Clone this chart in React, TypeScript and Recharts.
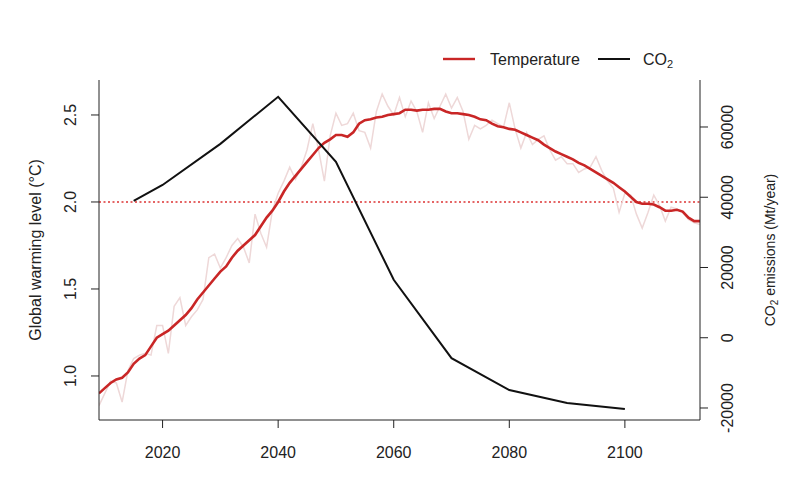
import React from 'react';
import { ComposedChart, Line, XAxis, YAxis, ReferenceLine } from 'recharts';

const years = [
  2009, 2010, 2011, 2012, 2013, 2014, 2015, 2016, 2017, 2018,
  2019, 2020, 2021, 2022, 2023, 2024, 2025, 2026, 2027, 2028,
  2029, 2030, 2031, 2032, 2033, 2034, 2035, 2036, 2037, 2038,
  2039, 2040, 2041, 2042, 2043, 2044, 2045, 2046, 2047, 2048,
  2049, 2050, 2051, 2052, 2053, 2054, 2055, 2056, 2057, 2058,
  2059, 2060, 2061, 2062, 2063, 2064, 2065, 2066, 2067, 2068,
  2069, 2070, 2071, 2072, 2073, 2074, 2075, 2076, 2077, 2078,
  2079, 2080, 2081, 2082, 2083, 2084, 2085, 2086, 2087, 2088,
  2089, 2090, 2091, 2092, 2093, 2094, 2095, 2096, 2097, 2098,
  2099, 2100, 2101, 2102, 2103, 2104, 2105, 2106, 2107, 2108,
  2109, 2110, 2111, 2112, 2113,
];

// smoothed temperature (°C)
const tempSmooth = [
  0.90, 0.93, 0.96, 0.98, 0.99, 1.02, 1.07, 1.10, 1.12, 1.17,
  1.22, 1.24, 1.26, 1.29, 1.32, 1.35, 1.39, 1.44, 1.48, 1.52,
  1.56, 1.60, 1.63, 1.68, 1.72, 1.75, 1.78, 1.81, 1.86, 1.91,
  1.95, 2.00, 2.06, 2.11, 2.15, 2.19, 2.23, 2.27, 2.31, 2.34,
  2.36, 2.385, 2.385, 2.375, 2.40, 2.45, 2.47, 2.475, 2.485, 2.49,
  2.50, 2.505, 2.51, 2.53, 2.53, 2.525, 2.53, 2.53, 2.535, 2.535,
  2.52, 2.51, 2.51, 2.505, 2.50, 2.49, 2.475, 2.47, 2.45, 2.435,
  2.43, 2.42, 2.415, 2.40, 2.385, 2.37, 2.355, 2.33, 2.31, 2.29,
  2.275, 2.26, 2.245, 2.225, 2.21, 2.19, 2.17, 2.15, 2.13, 2.11,
  2.085, 2.06, 2.03, 2.00, 1.99, 1.99, 1.985, 1.97, 1.95, 1.95,
  1.955, 1.945, 1.91, 1.89, 1.89,
];

// annual temperature (°C)
const tempAnnual = [
  0.83, 0.90, 0.97, 0.96, 0.85, 1.03, 1.10, 1.12, 1.13, 1.12,
  1.29, 1.29, 1.13, 1.40, 1.45, 1.29, 1.34, 1.38, 1.44, 1.68,
  1.70, 1.62, 1.68, 1.75, 1.79, 1.74, 1.65, 1.93, 1.82, 1.74,
  1.95, 2.05, 2.12, 2.20, 2.13, 2.20, 2.30, 2.45, 2.30, 2.12,
  2.38, 2.51, 2.44, 2.45, 2.51, 2.41, 2.40, 2.31, 2.52, 2.62,
  2.55, 2.50, 2.60, 2.49, 2.58, 2.52, 2.40, 2.57, 2.48, 2.55,
  2.62, 2.54, 2.60, 2.52, 2.36, 2.44, 2.42, 2.44, 2.47, 2.45,
  2.43, 2.57, 2.42, 2.31, 2.40, 2.33, 2.36, 2.38, 2.30, 2.24,
  2.26, 2.22, 2.22, 2.17, 2.19, 2.20, 2.26, 2.18, 2.12, 2.08,
  1.94, 2.05, 2.04, 1.93, 1.85, 1.94, 2.04, 1.98, 1.89, 1.97,
  1.96, 1.94, 1.90, 1.88, 1.87,
];

// CO2 emissions (Mt/year)
const co2Years = [2015, 2020, 2030, 2040, 2050, 2060, 2070, 2080, 2090, 2100];
const co2Values = [39000, 43500, 55200, 68600, 50100, 16500, -5800, -14900, -18600, -20300];

const xTicks = [2020, 2040, 2060, 2080, 2100];
const tempTicks = [1.0, 1.5, 2.0, 2.5];
const co2Ticks = [-20000, 0, 20000, 40000, 60000];

const data = years.map((year, i) => {
  const k = co2Years.indexOf(year);
  return {
    year,
    smooth: tempSmooth[i],
    annual: tempAnnual[i],
    co2: k >= 0 ? co2Values[k] : null,
  };
});

const FONT = '"Liberation Sans", Arial, Helvetica, sans-serif';
const INK = '#222';
const RED = '#c92626';

const LeftTick = (props: any) => {
  const { x, y, payload } = props;
  const cx = x - 18;
  return (
    <text x={cx} y={y} transform={`rotate(-90 ${cx} ${y})`} textAnchor="middle"
      dominantBaseline="central" fontSize={16} fill={INK} fontFamily={FONT}>
      {Number(payload.value).toFixed(1)}
    </text>
  );
};

const RightTick = (props: any) => {
  const { x, y, payload } = props;
  const cx = x + 18;
  return (
    <text x={cx} y={y} transform={`rotate(-90 ${cx} ${y})`} textAnchor="middle"
      dominantBaseline="central" fontSize={16} fill={INK} fontFamily={FONT}>
      {String(payload.value)}
    </text>
  );
};

const BottomTick = (props: any) => {
  const { x, y, payload } = props;
  return (
    <text x={x} y={y + 22} textAnchor="middle" dominantBaseline="central"
      fontSize={16} fill={INK} fontFamily={FONT}>
      {payload.value}
    </text>
  );
};

const App = () => {
  return (
    <div style={{ position: 'absolute', left: 0, top: 0, width: 800, height: 500, background: '#fff', fontFamily: FONT }}>
      <ComposedChart width={800} height={500} data={data}
        margin={{ top: 80, right: 40, bottom: 30, left: 39 }}>
        <XAxis dataKey="year" type="number" domain={[2009, 2113]} ticks={xTicks}
          allowDataOverflow height={50} tickSize={8} tickMargin={2}
          stroke={INK} tick={<BottomTick />} />
        <YAxis yAxisId="temp" orientation="left" type="number" domain={[0.747, 2.701]}
          ticks={tempTicks} allowDataOverflow width={60} tickSize={8} tickMargin={2}
          stroke={INK} tick={<LeftTick />} />
        <YAxis yAxisId="co2" orientation="right" type="number" domain={[-23420, 73380]}
          ticks={co2Ticks} allowDataOverflow width={60} tickSize={8} tickMargin={2}
          stroke={INK} tick={<RightTick />} />
        <ReferenceLine yAxisId="temp" y={2} stroke="#d33" strokeWidth={1.3} strokeDasharray="2 2.5" />
        <Line yAxisId="temp" dataKey="annual" stroke="#eed8d8" strokeWidth={1.5}
          dot={false} isAnimationActive={false} />
        <Line yAxisId="temp" dataKey="smooth" stroke={RED} strokeWidth={2.6}
          dot={false} isAnimationActive={false} />
        <Line yAxisId="co2" dataKey="co2" stroke="#111" strokeWidth={2}
          dot={false} connectNulls isAnimationActive={false} />
        <text x={35} y={250} transform="rotate(-90 35 250)" textAnchor="middle"
          dominantBaseline="central" fontSize={16} fill={INK} fontFamily={FONT}>
          Global warming level (°C)
        </text>
        <text x={770} y={250} transform="rotate(-90 770 250)" textAnchor="middle"
          dominantBaseline="central" fontSize={14} fill={INK} fontFamily={FONT}>
          CO<tspan fontSize={10} dy={4}>2</tspan><tspan dy={-4}> emissions (Mt/year)</tspan>
        </text>
      </ComposedChart>
      <svg width={800} height={80} style={{ position: 'absolute', left: 0, top: 0 }}>
        <line x1={443} y1={59} x2={475} y2={59} stroke={RED} strokeWidth={2.4} />
        <text x={490} y={59} dominantBaseline="central" fontSize={16} fill={INK} fontFamily={FONT}>Temperature</text>
        <line x1={598} y1={59} x2={630} y2={59} stroke="#111" strokeWidth={2} />
        <text x={643} y={59} dominantBaseline="central" fontSize={16} fill={INK} fontFamily={FONT}>
          CO<tspan fontSize={11} dy={5}>2</tspan>
        </text>
      </svg>
    </div>
  );
};

export default App;
